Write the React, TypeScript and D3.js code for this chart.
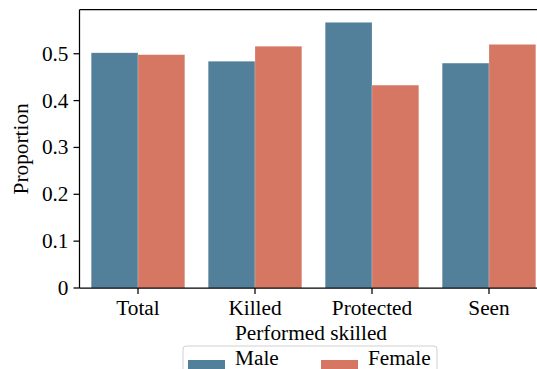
import React from "react";
import * as d3 from "d3";

const categories = ["Total", "Killed", "Protected", "Seen"];
const seriesNames = ["Male", "Female"];
const maleValues = [0.502, 0.484, 0.567, 0.48];
const femaleValues = [0.498, 0.516, 0.433, 0.52];
const yTicks = [0, 0.1, 0.2, 0.3, 0.4, 0.5];
const yTickLabels = ["0", "0.1", "0.2", "0.3", "0.4", "0.5"];
const colors = ["#527f99", "#d67763"];

const W = 537;
const H = 369;
const FONT = "'Liberation Serif', 'Times New Roman', serif";
const FS = 21.3;

export default function App() {
  const left = 79.5;
  const top = 9.7;
  const bottom = 288;
  const right = 547.5; // plot extends past the visible canvas edge

  const x = d3.scaleLinear().domain([-0.5, categories.length - 0.5]).range([left, right]);
  const y = d3.scaleLinear().domain([0, 0.594]).range([bottom, top]);
  const bw = x(0.4) - x(0);

  const series = [maleValues, femaleValues];

  return (
    <svg
      width={W}
      height={H}
      style={{ position: "absolute", left: 0, top: 0, overflow: "hidden", background: "#fff" }}
      fontFamily={FONT}
    >
      <rect x={0} y={0} width={W} height={H} fill="#fff" />
      {/* bars */}
      {series.map((vals, si) =>
        vals.map((v, ci) => {
          const x0 = x(ci) + (si === 0 ? -bw : 0);
          return (
            <rect
              key={`${si}-${ci}`}
              x={x0}
              y={y(v)}
              width={bw}
              height={bottom - y(v)}
              fill={colors[si]}
              stroke="#ffffff"
              strokeOpacity={0.35}
              strokeWidth={0.6}
            />
          );
        })
      )}
      {/* spines */}
      <line x1={left} x2={W + 2} y1={top} y2={top} stroke="#000" strokeWidth={1.25} />
      <line x1={left} x2={W + 2} y1={bottom} y2={bottom} stroke="#000" strokeWidth={1.25} />
      <line x1={left} x2={left} y1={top} y2={bottom} stroke="#000" strokeWidth={1.25} />
      {/* y ticks */}
      {yTicks.map((t, i) => (
        <g key={`y${i}`}>
          <line x1={left - 6} x2={left} y1={y(t)} y2={y(t)} stroke="#000" strokeWidth={1.25} />
          <text x={left - 11} y={y(t) + 7} fontSize={FS} textAnchor="end" fill="#000">
            {yTickLabels[i]}
          </text>
        </g>
      ))}
      {/* x ticks */}
      {categories.map((c, i) => (
        <g key={`x${i}`}>
          <line x1={x(i)} x2={x(i)} y1={bottom} y2={bottom + 6} stroke="#000" strokeWidth={1.25} />
          <text x={x(i)} y={315} fontSize={FS} textAnchor="middle" fill="#000">
            {c}
          </text>
        </g>
      ))}
      {/* axis labels */}
      <text x={311} y={340} fontSize={FS} textAnchor="middle" fill="#000">
        Performed skilled
      </text>
      <text
        transform={`translate(28, ${(top + bottom) / 2}) rotate(-90)`}
        fontSize={FS}
        textAnchor="middle"
        fill="#000"
      >
        Proportion
      </text>
      {/* legend */}
      <rect x={183} y={346} width={254} height={40} rx={3} fill="#fff" stroke="#d0d0d0" strokeWidth={1} />
      {seriesNames.map((s, i) => {
        const px = i === 0 ? 188 : 321;
        return (
          <g key={s}>
            <rect x={px} y={360} width={37} height={13} fill={colors[i]} />
            <text x={px + 47} y={365} fontSize={FS} fill="#000">
              {s}
            </text>
          </g>
        );
      })}
    </svg>
  );
}
